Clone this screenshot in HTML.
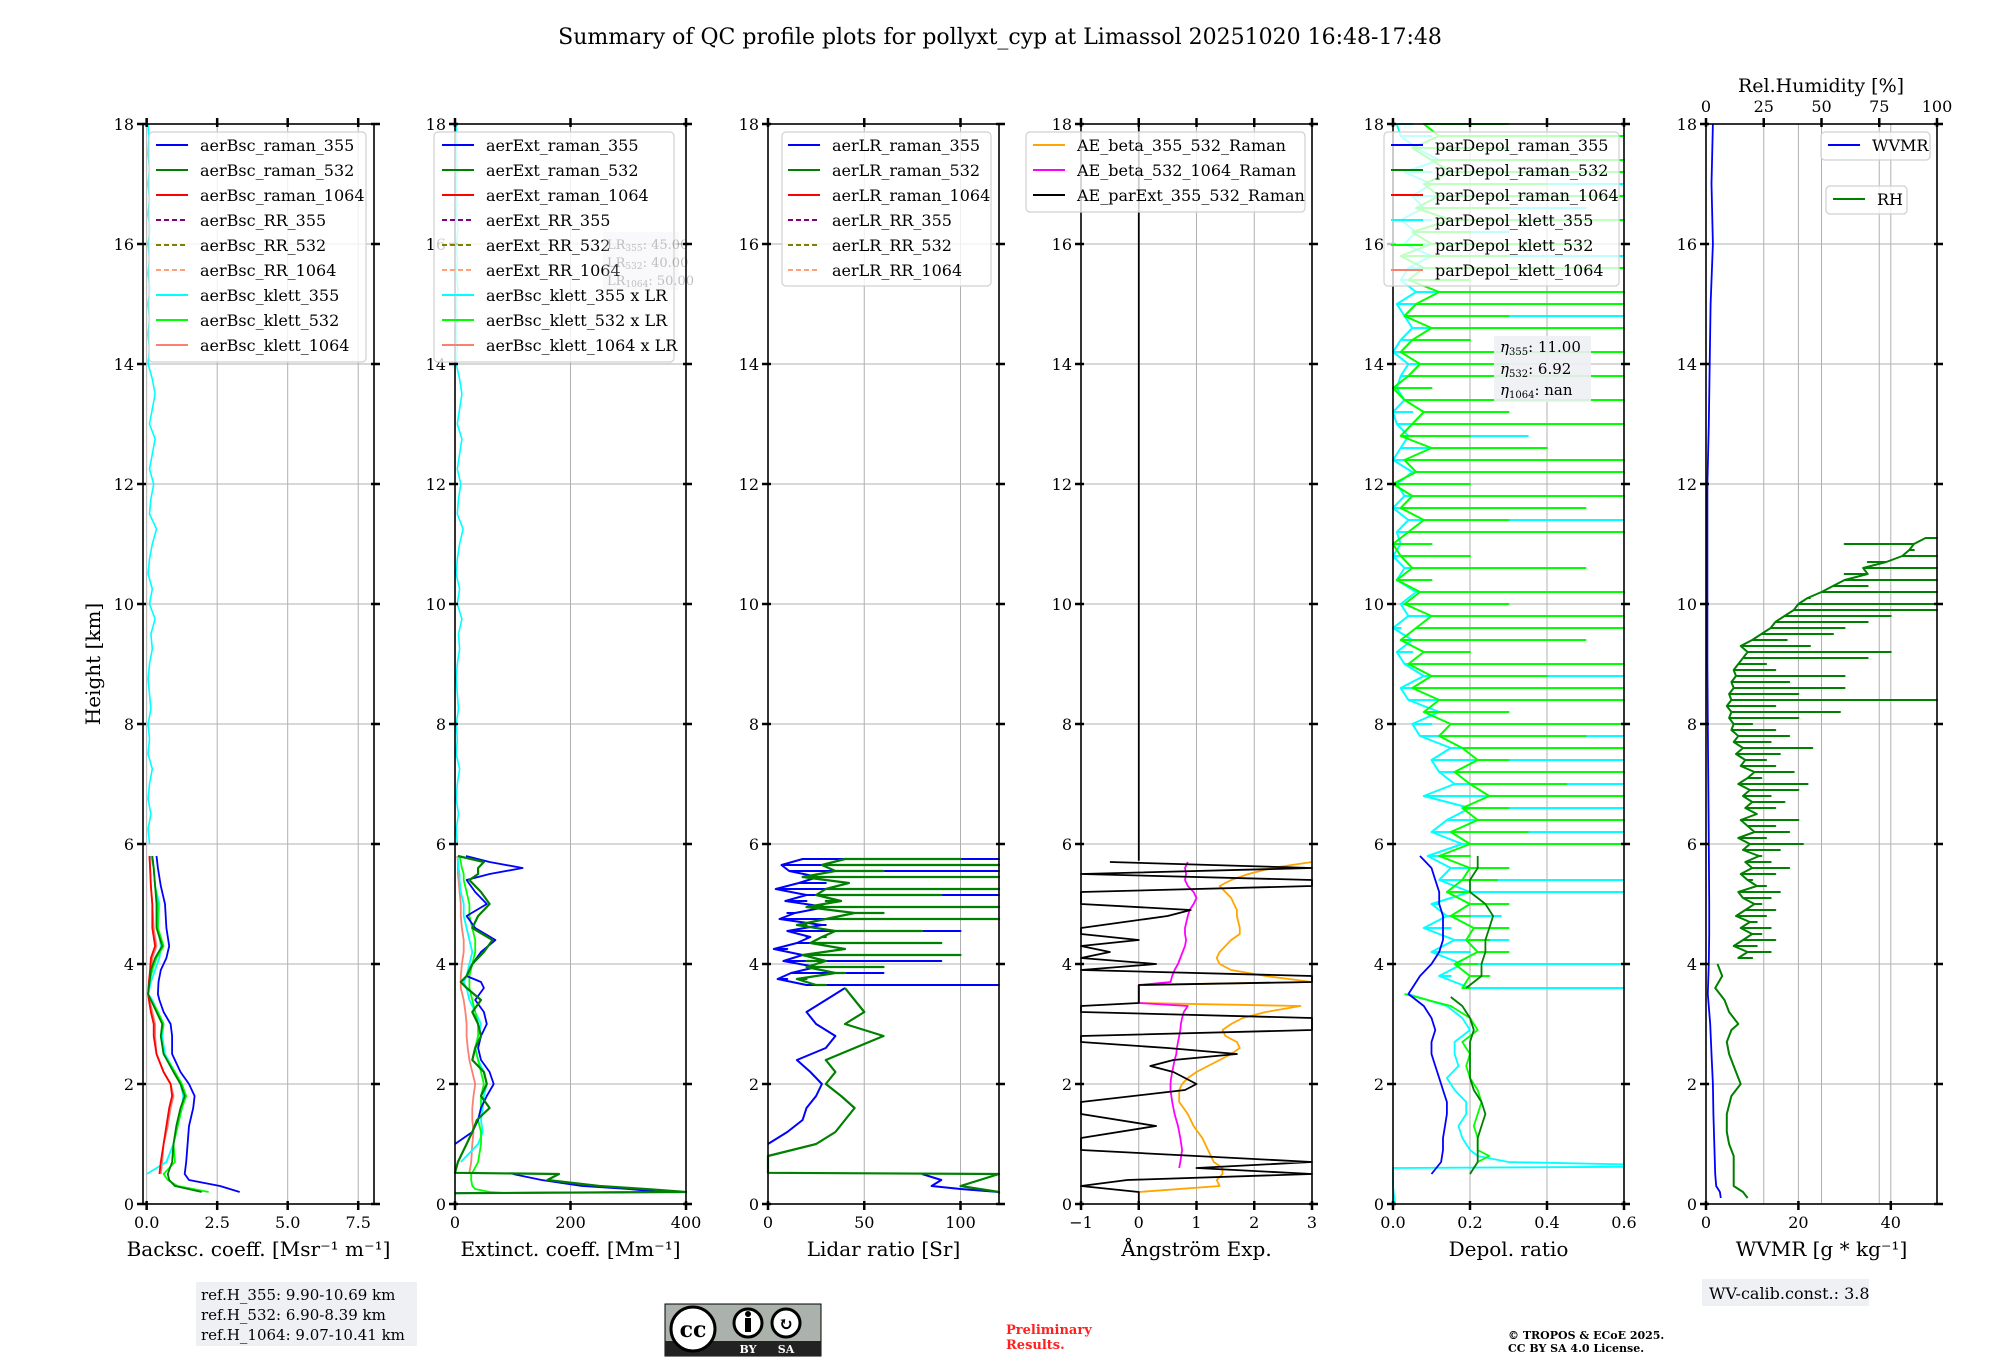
<!DOCTYPE html>
<html><head><meta charset="utf-8"><style>
html,body{margin:0;padding:0;background:#fff;}
svg text{font-family:"DejaVu Serif","Liberation Serif",serif;}
</style></head><body>
<svg id="fig" xmlns="http://www.w3.org/2000/svg" width="2000" height="1360" viewBox="0 0 2000 1360">
<rect width="2000" height="1360" fill="#fff"/>
<text x="1000" y="44" font-size="22" text-anchor="middle">Summary of QC profile plots for pollyxt_cyp at Limassol 20251020 16:48-17:48</text>
<g id="axes"></g>
<g id="data"></g>
<g id="frames"></g>
<g id="legends"></g>
<text x="100" y="664" font-size="20" text-anchor="middle" transform="rotate(-90 100 664)">Height [km]</text>
<text x="1821" y="92" font-size="19" text-anchor="middle">Rel.Humidity [%]</text>
<g opacity="0.25">
<rect x="603" y="232" width="76" height="58" fill="#e8e8f0"/>
<text x="607" y="249" font-size="13">LR<tspan font-size="9" dy="2">355</tspan><tspan dy="-2">: 45.00</tspan></text>
<text x="607" y="267" font-size="13">LR<tspan font-size="9" dy="2">532</tspan><tspan dy="-2">: 40.00</tspan></text>
<text x="607" y="285" font-size="13">LR<tspan font-size="9" dy="2">1064</tspan><tspan dy="-2">: 50.00</tspan></text>
</g>
<g>
<rect x="1494" y="336" width="97" height="66" fill="#eef0f4" opacity="0.9"/>
<text x="1500" y="352" font-size="15" font-style="italic">η<tspan font-size="10" font-style="normal" dy="3">355</tspan><tspan font-style="normal" dy="-3">: 11.00</tspan></text>
<text x="1500" y="374" font-size="15" font-style="italic">η<tspan font-size="10" font-style="normal" dy="3">532</tspan><tspan font-style="normal" dy="-3">: 6.92</tspan></text>
<text x="1500" y="395" font-size="15" font-style="italic">η<tspan font-size="10" font-style="normal" dy="3">1064</tspan><tspan font-style="normal" dy="-3">: nan</tspan></text>
</g>
<g>
<rect x="196" y="1282" width="221" height="64" fill="#eef0f4"/>
<text x="201" y="1300" font-size="15">ref.H_355: 9.90-10.69 km</text>
<text x="201" y="1320" font-size="15">ref.H_532: 6.90-8.39 km</text>
<text x="201" y="1340" font-size="15">ref.H_1064: 9.07-10.41 km</text>
</g>
<g>
<rect x="665" y="1304" width="156" height="52" fill="#aab2ab" stroke="#000" stroke-width="1"/>
<rect x="665" y="1341" width="156" height="15" fill="#222"/>
<circle cx="693" cy="1329" r="22" fill="#fff" stroke="#000" stroke-width="3"/>
<text x="693" y="1337" font-size="22" font-weight="bold" text-anchor="middle" font-family="Liberation Sans">cc</text>
<circle cx="748" cy="1323" r="14" fill="#fff" stroke="#000" stroke-width="3"/>
<rect x="745" y="1318" width="6" height="14" fill="#000"/><circle cx="748" cy="1314" r="3" fill="#000"/>
<circle cx="786" cy="1323" r="14" fill="#fff" stroke="#000" stroke-width="3"/>
<text x="786" y="1330" font-size="18" font-weight="bold" text-anchor="middle" font-family="Liberation Sans">↻</text>
<text x="748" y="1353" font-size="11" fill="#fff" font-weight="bold" text-anchor="middle" font-family="Liberation Sans">BY</text>
<text x="786" y="1353" font-size="11" fill="#fff" font-weight="bold" text-anchor="middle" font-family="Liberation Sans">SA</text>
</g>
<text x="1006" y="1334" font-size="13" fill="#ff2020" font-weight="bold"><tspan x="1006">Preliminary</tspan><tspan x="1006" dy="15">Results.</tspan></text>
<text x="1508" y="1339" font-size="11" font-weight="bold"><tspan x="1508">© TROPOS &amp; ECoE 2025.</tspan><tspan x="1508" dy="13">CC BY SA 4.0 License.</tspan></text>
<g>
<rect x="1702" y="1279" width="167" height="27" fill="#eef0f4"/>
<text x="1709" y="1299" font-size="16">WV-calib.const.: 3.8</text>
</g>
</svg>
<script>
// ---------- data ----------
const hB=[0.2,0.3,0.4,0.5,0.7,1.0,1.3,1.6,1.8,2.0,2.2,2.5,2.8,3.0,3.2,3.4,3.5,3.7,3.9,4.1,4.3,4.6,5.0,5.3,5.6,5.8];
const bsc355=[3.3,2.6,1.5,1.35,1.4,1.45,1.5,1.65,1.7,1.5,1.2,0.9,0.9,0.85,0.6,0.45,0.4,0.42,0.5,0.7,0.8,0.7,0.65,0.5,0.4,0.35];
const bsc532=[1.95,1.0,0.8,0.75,0.9,0.95,1.05,1.2,1.35,1.2,0.95,0.6,0.5,0.55,0.35,0.15,0.05,0.1,0.15,0.3,0.55,0.35,0.35,0.3,0.25,0.2];
const bsc1064=[null,null,null,0.45,0.5,0.6,0.7,0.8,0.9,0.85,0.6,0.35,0.25,0.25,0.15,0.08,0.05,0.08,0.12,0.15,0.3,0.2,0.2,0.15,0.12,0.1];
const bscK355=[null,null,null,0.0,0.7,0.95,1.1,1.25,1.3,1.2,1.0,0.65,0.55,0.6,0.4,0.2,0.05,0.15,0.3,0.45,0.5,0.4,0.45,0.3,0.25,0.15];
const bscK532=[2.2,1.1,0.75,0.6,1.0,0.95,1.1,1.25,1.4,1.25,1.0,0.6,0.5,0.6,0.4,0.15,0.05,0.1,0.2,0.35,0.6,0.4,0.4,0.3,0.25,0.2];
const bscK1064=[null,null,null,0.5,0.55,0.6,0.75,0.85,0.95,0.85,0.6,0.35,0.3,0.3,0.2,0.1,0.05,0.1,0.15,0.2,0.35,0.25,0.2,0.15,0.12,0.1];
const hU=[6.0,6.25,6.5,6.75,7.0,7.25,7.5,7.75,8.0,8.25,8.5,8.75,9.0,9.25,9.5,9.75,10.0,10.25,10.5,10.75,11.0,11.25,11.5,11.75,12.0,12.25,12.5,12.75,13.0,13.25,13.5,13.75,14.0,14.25,14.5,14.75,15.0,15.25,15.5,15.75,16.0,16.25,16.5,16.75,17.0,17.25,17.5,17.75,18.0];
const bscK355Up=[0.1,0.05,0.15,0.05,0.1,0.2,0.05,0.1,0.05,0.15,0.1,0.05,0.1,0.2,0.15,0.3,0.1,0.2,0.05,0.1,0.2,0.35,0.1,0.15,0.25,0.1,0.2,0.3,0.1,0.2,0.3,0.2,0.05,0.1,0.05,0.1,0.05,0.12,0.05,0.1,0.05,0.12,0.05,0.1,0.05,0.1,0.05,0.08,0.05];
const hE=[0.18,0.2,0.25,0.3,0.4,0.5,0.52,0.7,1.0,1.2,1.4,1.6,1.8,2.0,2.2,2.4,2.6,2.8,3.0,3.2,3.4,3.6,3.7,3.8,4.0,4.2,4.4,4.6,4.8,5.0,5.2,5.4,5.5,5.6,5.7,5.8];
const ext355=[0,355,300,220,150,100,null,null,0,30,40,45,55,67,60,45,40,45,55,50,35,50,45,20,30,45,70,35,20,55,35,20,60,117,60,19];
const ext532=[0,400,330,250,160,180,0,5,20,30,38,60,45,55,50,30,35,45,40,30,45,20,10,20,30,50,65,30,40,60,45,25,40,40,50,5];
const extK532=[90,60,35,30,28,28,30,40,45,45,40,45,45,50,45,40,35,40,40,35,30,25,25,25,30,35,35,30,25,25,20,15,15,12,10,8];
const extK355=[null,null,null,null,null,null,null,10,40,48,45,48,50,55,50,40,35,40,45,35,25,20,15,20,25,30,25,20,15,15,10,8,8,6,5,5];
const extK1064=[null,null,null,null,null,25,25,28,30,32,30,30,32,35,30,25,22,20,20,18,15,10,10,10,12,15,15,12,10,10,8,6,5,5,5,4];
const extK355Up=[4,2,6,2,4,8,2,4,2,6,4,2,4,8,6,12,4,8,2,4,8,14,4,6,10,4,8,12,4,8,12,8,2,4,2,4,2,5,2,4,2,5,2,4,2,4,2,3,2];
const hL=[0.18,0.2,0.25,0.3,0.4,0.5,0.52,0.8,1.0,1.2,1.4,1.6,1.8,2.0,2.2,2.4,2.6,2.8,3.0,3.2,3.4,3.6];
const lr355=[120,120,100,85,90,80,null,null,0,10,18,20,25,28,22,15,30,35,25,20,30,40];
const lr532=[120,120,110,100,110,120,0,0,25,35,40,45,38,30,35,30,45,60,40,50,45,40];
const hLU=[3.65,3.75,3.85,3.95,4.05,4.15,4.25,4.35,4.45,4.55,4.65,4.75,4.85,4.95,5.05,5.15,5.25,5.35,5.45,5.55,5.65,5.75];
const lr355Up=[120,10,60,30,90,20,10,70,20,100,30,120,10,120,20,120,60,30,100,120,90,120];
const lr355Base=[20,5,12,25,8,18,3,15,22,10,28,6,14,30,9,20,4,16,26,11,7,18];
const lr532Up=[30,20,40,60,20,100,40,90,30,80,20,120,60,120,30,90,120,40,120,60,120,100];
const lr532Base=[25,15,35,20,30,18,40,22,28,35,15,30,45,20,38,25,30,42,18,35,28,40];
const hA=[0.0,0.1,0.2,0.3,0.4,0.5,0.6,0.7,0.9,1.1,1.3,1.5,1.7,1.9,2.0,2.1,2.2,2.3,2.4,2.5,2.6,2.7,2.8,2.9,3.0,3.1,3.2,3.3,3.35,3.65,3.7,3.8,3.9,4.0,4.1,4.2,4.3,4.4,4.5,4.6,4.8,4.9,5.0,5.1,5.2,5.3,5.4,5.5,5.6,5.7];
const aeBeta355=[null,null,0,1.4,1.35,1.45,1.45,1.3,1.2,1.1,0.95,0.85,0.7,0.7,0.75,0.85,1.0,1.2,1.4,1.6,1.75,1.7,1.5,1.45,1.6,1.8,2.2,2.8,0,0,3.0,2.2,1.6,1.4,1.35,1.4,1.5,1.6,1.75,1.75,1.7,1.7,1.65,1.6,1.5,1.4,1.6,1.9,2.3,3.0];
const aeBeta532=[null,null,null,null,null,null,0.7,0.72,0.75,0.72,0.68,0.62,0.58,0.55,0.55,0.56,0.58,0.6,0.62,0.65,0.66,0.68,0.7,0.72,0.73,0.75,0.78,0.85,0,0,0.55,0.58,0.62,0.68,0.72,0.76,0.8,0.82,0.8,0.8,0.85,0.88,0.95,1.0,0.95,0.85,0.8,0.82,0.8,0.85];
const aeExt=[0,0,0,-1,-0.2,3,1.0,3,-1,-1,0.3,-1,-1,0.8,1.0,0.8,0.6,0.2,0.6,1.7,0.5,-1,-1,3,3,3,-1,-1,0,0,3,3,-1,0.3,-1,-0.5,-1,0,-1,-1,0.5,0.9,-1,-1,-1,3,3,-1,3,-0.5];
const hAeTop=[5.72,18];
const aeExtTop=[0,0];
const hD=[0.5,0.7,0.9,1.1,1.3,1.5,1.7,1.9,2.1,2.3,2.5,2.7,2.9,3.1,3.3,3.45,3.5,3.6,3.8,4.0,4.2,4.4,4.6,4.8,5.0,5.2,5.4,5.6,5.8];
const dep355=[0.1,0.125,0.13,0.13,0.135,0.14,0.14,0.13,0.12,0.11,0.1,0.1,0.11,0.1,0.08,0.05,0.04,0.05,0.07,0.1,0.12,0.13,0.13,0.13,0.12,0.12,0.11,0.1,0.07];
const dep532=[0.2,0.22,0.22,0.22,0.23,0.24,0.23,0.21,0.2,0.2,0.2,0.2,0.21,0.2,0.18,0.15,null,0.19,0.23,0.23,0.24,0.24,0.25,0.26,0.24,0.2,0.2,0.22,0.22];
const hDK=[0.0,0.3,0.6,0.62,0.66,0.7,0.8,0.9,1.1,1.3,1.5,1.7,1.9,2.1,2.3,2.5,2.7,2.9,3.1,3.3,3.5];
const depK355Low=[0.005,0.0,0.0,0.6,0.6,0.3,0.22,0.2,0.18,0.17,0.19,0.19,0.16,0.14,0.17,0.16,0.16,0.2,0.18,0.14,0.04];
const depK532Low=[null,null,null,null,null,0.22,0.25,0.22,0.22,0.21,0.22,0.23,0.22,0.2,0.19,0.2,0.18,0.22,0.2,0.15,0.03];
const hDU=[3.6,3.8,4.0,4.2,4.4,4.6,4.8,5.0,5.2,5.4,5.6,5.8,6.0,6.2,6.4,6.6,6.8,7.0,7.2,7.4,7.6,7.8,8.0,8.2,8.4,8.6,8.8,9.0,9.2,9.4,9.6,9.8,10.0,10.2,10.4,10.6,10.8,11.0,11.2,11.4,11.6,11.8,12.0,12.2,12.4,12.6,12.8,13.0,13.2,13.4,13.6,13.8,14.0,14.2,14.4,14.6,14.8,15.0,15.2,15.4,15.6,15.8,16.0,16.2,16.4,16.6,16.8,17.0,17.2,17.4,17.6,17.8,18.0];
const depK355Up=[0.6,0.15,0.6,0.2,0.3,0.15,0.28,0.12,0.6,0.6,0.3,0.2,0.55,0.6,0.25,0.6,0.35,0.6,0.4,0.6,0.2,0.6,0.1,0.3,0.6,0.05,0.6,0.1,0.05,0.15,0.02,0.3,0.1,0.6,0.05,0.2,0.03,0.1,0.05,0.6,0.1,0.6,0.05,0.2,0.03,0.1,0.35,0.1,0.05,0.2,0.05,0.1,0.2,0.05,0.1,0.2,0.6,0.1,0.3,0.1,0.2,0.6,0.1,0.3,0.1,0.5,0.2,0.6,0.1,0.6,0.2,0.1,0.05];
const depK355Base=[0.2,0.12,0.18,0.1,0.16,0.08,0.14,0.1,0.2,0.12,0.15,0.09,0.18,0.1,0.14,0.2,0.08,0.16,0.12,0.1,0.15,0.07,0.05,0.12,0.04,0.02,0.08,0.03,0.01,0.05,0.0,0.04,0.02,0.06,0.01,0.03,0.0,0.02,0.01,0.04,0.0,0.03,0.01,0.05,0.0,0.02,0.04,0.01,0.0,0.03,0.01,0.02,0.04,0.0,0.02,0.05,0.03,0.01,0.06,0.02,0.04,0.1,0.03,0.06,0.02,0.08,0.05,0.1,0.03,0.12,0.06,0.02,0.01];
const depK532Up=[0.2,0.25,0.22,0.3,0.25,0.3,0.2,0.3,0.2,0.27,0.3,0.2,0.6,0.35,0.6,0.3,0.6,0.45,0.6,0.3,0.6,0.5,0.6,0.3,0.6,0.6,0.4,0.6,0.2,0.5,0.6,0.6,0.3,0.6,0.1,0.5,0.2,0.1,0.6,0.3,0.5,0.6,0.2,0.6,0.6,0.4,0.2,0.6,0.3,0.6,0.1,0.6,0.3,0.6,0.2,0.6,0.3,0.6,0.6,0.2,0.6,0.3,0.5,0.2,0.6,0.3,0.6,0.4,0.6,0.6,0.3,0.6,0.3];
const depK532Base=[0.18,0.2,0.16,0.22,0.19,0.21,0.15,0.2,0.14,0.18,0.2,0.12,0.2,0.15,0.22,0.18,0.25,0.2,0.16,0.22,0.18,0.12,0.15,0.08,0.12,0.05,0.1,0.04,0.08,0.02,0.06,0.1,0.03,0.07,0.01,0.05,0.02,0.0,0.04,0.08,0.02,0.05,0.0,0.06,0.03,0.1,0.02,0.05,0.08,0.03,0.0,0.04,0.07,0.02,0.05,0.1,0.03,0.06,0.12,0.04,0.08,0.02,0.1,0.05,0.15,0.06,0.12,0.08,0.15,0.1,0.05,0.12,0.08];
const hW=[0.1,0.2,0.3,0.5,1.0,1.5,2.0,2.5,3.0,3.5,4.0,4.5,5.0,6.0,7.0,8.0,9.0,10.0,11,12,13,14,15,16,17,18];
const wvmr=[3.2,3.0,2.2,2.0,1.8,1.6,1.5,1.2,0.9,0.4,0.6,0.7,0.7,0.6,0.5,0.4,0.3,0.3,0.3,0.3,0.6,0.8,1.0,1.5,1.2,1.5];
const hRH=[0.1,0.2,0.3,0.5,0.8,1.0,1.2,1.5,1.8,2.0,2.2,2.5,2.7,2.9,3.0,3.2,3.4,3.6,3.8,4.0];
const rh=[18,16,12,12,12,10,9,9,11,15,13,10,9,11,14,10,8,4,7,5];
const hRHU=[4.1,4.2,4.3,4.4,4.5,4.6,4.7,4.8,4.9,5.0,5.1,5.2,5.3,5.4,5.5,5.6,5.7,5.8,5.9,6.0,6.1,6.2,6.3,6.4,6.5,6.6,6.7,6.8,6.9,7.0,7.1,7.2,7.3,7.4,7.5,7.6,7.7,7.8,7.9,8.0,8.1,8.2,8.3,8.4,8.5,8.6,8.7,8.8,8.9,9.0,9.1,9.2,9.3,9.4,9.5,9.6,9.7,9.8,9.9,10.0,10.1,10.2,10.3,10.4,10.5,10.6,10.7,10.8,10.9,11.0,11.1];
const rhUp=[20,28,22,30,24,28,22,26,30,24,28,32,26,20,30,36,28,24,32,42,26,36,30,40,22,30,34,28,40,44,24,38,30,26,32,46,28,36,30,20,40,58,30,100,40,60,36,60,30,26,70,80,45,35,55,60,70,80,100,100,45,100,70,100,60,100,70,100,90,60,100];
const rhBase=[14,18,12,16,20,15,19,13,17,21,16,14,22,18,15,20,17,23,16,19,14,21,18,15,22,17,20,16,19,14,18,21,15,17,13,16,12,14,11,12,10,11,9,11,10,12,11,13,12,14,16,18,15,20,24,28,30,34,38,40,44,50,55,60,70,68,78,85,88,90,95];
const yTicks=[0,2,4,6,8,10,12,14,16,18];
const xTicks1=[0,2.5,5,7.5], xTickLabels1=["0.0","2.5","5.0","7.5"];
const xTicks2=[0,200,400], xTickLabels2=["0","200","400"];
const xTicks3=[0,50,100], xTickLabels3=["0","50","100"];
const xTicks4=[-1,0,1,2,3], xTickLabels4=["−1","0","1","2","3"];
const xTicks5=[0,0.2,0.4,0.6], xTickLabels5=["0.0","0.2","0.4","0.6"];
const xTicks6=[0,20,40], xTickLabels6=["0","20","40"];
const rhTicks=[0,25,50,75,100];

// ---------- layout ----------
const NS="http://www.w3.org/2000/svg";
const LEFT=[143,455,768,1081,1393,1706], W=231, TOP=124, BOT=1204;
const XMIN=[-0.13,0,0,-1,0,0], XMAX=[8.06,400,120,3,0.6,50];
function sx(p,v){return LEFT[p]+(v-XMIN[p])/(XMAX[p]-XMIN[p])*W;}
function sxRH(v){return LEFT[5]+v/100*W;}
function sy(h){return BOT-h/18*(BOT-TOP);}
const gridG=document.getElementById('axes'), dataG=document.getElementById('data'), frG=document.getElementById('frames'), lgG=document.getElementById('legends');
function mk(tag,attrs,parent){const e=document.createElementNS(NS,tag);for(const k in attrs)e.setAttribute(k,attrs[k]);parent.appendChild(e);return e;}
function clampX(p,x){return Math.max(LEFT[p],Math.min(LEFT[p]+W,x));}

function series(p,hs,vs,color,name,width,fx){
  const f=fx||(v=>sx(p,v));
  let d="",pen=false;
  const n=Math.min(hs.length,vs.length);
  for(let i=0;i<n;i++){
    if(vs[i]===null){pen=false;continue;}
    const x=clampX(p,f(vs[i]));
    d+=(pen?"L":"M")+x.toFixed(1)+" "+sy(hs[i]).toFixed(1)+" ";pen=true;
  }
  const e=mk('path',{d:d,fill:"none",stroke:color,"stroke-width":width||1.8,"stroke-linejoin":"round"},dataG);
  
  
}
// horizontal spikes out of a wiggly baseline
function spikes(p,hs,vs,base,color,name,width,fx){
  const f=fx||(v=>sx(p,v));
  let d="";
  const n=Math.min(hs.length,vs.length,base.length);
  for(let i=0;i<n;i++){
    const y=sy(hs[i]).toFixed(1);
    const xb=clampX(p,f(base[i])).toFixed(1), xv=clampX(p,f(vs[i])).toFixed(1);
    d+=(i?"L":"M")+xb+" "+y+" L"+xv+" "+y+" L"+xb+" "+y+" ";
  }
  const e=mk('path',{d:d,fill:"none",stroke:color,"stroke-width":width||1.6,"stroke-linejoin":"round"},dataG);
  
  
}

const xTickSets=[[xTicks1,xTickLabels1],[xTicks2,xTickLabels2],[xTicks3,xTickLabels3],[xTicks4,xTickLabels4],[xTicks5,xTickLabels5],[xTicks6,xTickLabels6]];
const xTitles=["Backsc. coeff. [Msr⁻¹ m⁻¹]","Extinct. coeff. [Mm⁻¹]","Lidar ratio [Sr]","Ångström Exp.","Depol. ratio","WVMR [g * kg⁻¹]"];
const panelNames=["backscatter","extinction","lidar-ratio","angstrom","depol","wvmr"];

for(let p=0;p<6;p++){
  const g=mk('g',{},gridG);
  
  
  yTicks.forEach(t=>{mk('line',{x1:LEFT[p],x2:LEFT[p]+W,y1:sy(t),y2:sy(t),stroke:"#b0b0b0","stroke-width":1},g);});
  const tks=(p===5)?rhTicks.map(v=>sxRH(v)):xTickSets[p][0].map(v=>sx(p,v));
  tks.forEach(x=>{mk('line',{x1:x,x2:x,y1:TOP,y2:BOT,stroke:"#b0b0b0","stroke-width":1},g);});
  if(p===5){xTicks6.forEach(v=>{mk('line',{x1:sx(5,v),x2:sx(5,v),y1:TOP,y2:BOT,stroke:"#b0b0b0","stroke-width":1},g);});}
}

// ---------- series ----------
series(0,hB,bscK1064,"#fa8072","bsc-klett-1064");
series(0,hB,bscK355,"#00ffff","bsc-klett-355");
series(0,hU,bscK355Up,"#00ffff","bsc-klett-355-upper",1.6);
series(0,hB,bscK532,"#00ff00","bsc-klett-532");
series(0,hB,bsc1064,"#ff0000","bsc-raman-1064");
series(0,hB,bsc532,"#008000","bsc-raman-532");
series(0,hB,bsc355,"#0000ff","bsc-raman-355");
series(1,hE,extK1064,"#fa8072","ext-klett-1064");
series(1,hE,extK355,"#00ffff","ext-klett-355");
series(1,hU,extK355Up,"#00ffff","ext-klett-355-upper",1.6);
series(1,hE,extK532,"#00ff00","ext-klett-532");
series(1,hE,ext355,"#0000ff","ext-raman-355");
series(1,hE,ext532,"#008000","ext-raman-532",2.2);
series(2,hL,lr355,"#0000ff","lr-raman-355",2);
series(2,hL,lr532,"#008000","lr-raman-532",2.2);
spikes(2,hLU,lr355Up,lr355Base,"#0000ff","lr-raman-355-upper",2);
spikes(2,hLU,lr532Up,lr532Base,"#008000","lr-raman-532-upper",2.2);
series(3,hA,aeBeta355,"#ffa500","ae-beta-355-532");
series(3,hA,aeBeta532,"#ff00ff","ae-beta-532-1064");
series(3,hA,aeExt,"#000000","ae-parext-355-532");
series(3,hAeTop,aeExtTop,"#000000","ae-parext-upper");
spikes(4,hDU,depK355Up,depK355Base,"#00ffff","depol-klett-355-upper",2);
spikes(4,hDU,depK532Up,depK532Base,"#00ff00","depol-klett-532-upper",2);
series(4,hDK,depK355Low,"#00ffff","depol-klett-355");
series(4,hDK,depK532Low,"#00ff00","depol-klett-532");
series(4,hD,dep355,"#0000ff","depol-raman-355");
series(4,hD,dep532,"#008000","depol-raman-532");
series(5,hRH,rh,"#008000","rh-profile",2,sxRH);
spikes(5,hRHU,rhUp,rhBase,"#008000","rh-profile-upper",2,sxRH);
series(5,hW,wvmr,"#0000ff","wvmr-profile",1.8);

// ---------- axes frames & ticks ----------
for(let p=0;p<6;p++){
  const g=mk('g',{},frG);
  
  
  mk('rect',{x:LEFT[p],y:TOP,width:W,height:BOT-TOP,fill:"none",stroke:"#000","stroke-width":1.6},g);
  yTicks.forEach(t=>{
    const y=sy(t);
    mk('line',{x1:LEFT[p]-6,x2:LEFT[p]+3,y1:y,y2:y,stroke:"#000","stroke-width":2.5},g);
    mk('line',{x1:LEFT[p]+W-3,x2:LEFT[p]+W+6,y1:y,y2:y,stroke:"#000","stroke-width":2.5},g);
    const tl=mk('text',{x:LEFT[p]-9,y:y+6,"font-size":16,"text-anchor":"end"},g);
    tl.textContent=String(t);
    
    
  });
  const [tv,tl]=xTickSets[p];
  tv.forEach((v,i)=>{
    const x=sx(p,v);
    mk('line',{x1:x,x2:x,y1:BOT-3,y2:BOT+6,stroke:"#000","stroke-width":2.5},g);
    if(p!==5) mk('line',{x1:x,x2:x,y1:TOP-6,y2:TOP+3,stroke:"#000","stroke-width":2.5},g);
    const t=mk('text',{x:x,y:BOT+24,"font-size":16,"text-anchor":"middle"},g);
    t.textContent=tl[i];
    
    
  });
  const xt=mk('text',{x:LEFT[p]+W/2,y:BOT+52,"font-size":20,"text-anchor":"middle"},g);
  xt.textContent=xTitles[p];
  
  
}
rhTicks.forEach(v=>{
  const x=sxRH(v);
  mk('line',{x1:x,x2:x,y1:TOP-6,y2:TOP+3,stroke:"#000","stroke-width":2.5},frG);
  const t=mk('text',{x:x,y:TOP-12,"font-size":16,"text-anchor":"middle"},frG);
  t.textContent=String(v);
  
  
});

// ---------- legends ----------
function legend(name,bx,by,bw,bh,lx,entries,alpha){
  const g=mk('g',{},lgG);
  
  
  mk('rect',{x:bx,y:by,width:bw,height:bh,rx:4,fill:"#fff","fill-opacity":alpha,stroke:"#d0d0d0","stroke-width":1.2},g);
  entries.forEach((e,i)=>{
    const y=by+13+i*25;
    const ln=mk('line',{x1:lx,x2:lx+32,y1:y,y2:y,stroke:e[1],"stroke-width":2},g);
    if(e[2]) ln.setAttribute('stroke-dasharray','5,3');
    const t=mk('text',{x:lx+44,y:y+6,"font-size":16},g);
    t.textContent=e[0];
    
    
  });
}
legend('backscatter-legend',149,132,217,230,156,[["aerBsc_raman_355","#0000ff"],["aerBsc_raman_532","#008000"],["aerBsc_raman_1064","#ff0000"],["aerBsc_RR_355","#800080",1],["aerBsc_RR_532","#808000",1],["aerBsc_RR_1064","#ffa07a",1],["aerBsc_klett_355","#00ffff"],["aerBsc_klett_532","#00ff00"],["aerBsc_klett_1064","#fa8072"]],0.8);
legend('extinction-legend',434,132,240,230,442,[["aerExt_raman_355","#0000ff"],["aerExt_raman_532","#008000"],["aerExt_raman_1064","#ff0000"],["aerExt_RR_355","#800080",1],["aerExt_RR_532","#808000",1],["aerExt_RR_1064","#ffa07a",1],["aerBsc_klett_355 x LR","#00ffff"],["aerBsc_klett_532 x LR","#00ff00"],["aerBsc_klett_1064 x LR","#fa8072"]],0.8);
legend('lidar-ratio-legend',782,132,209,154,788,[["aerLR_raman_355","#0000ff"],["aerLR_raman_532","#008000"],["aerLR_raman_1064","#ff0000"],["aerLR_RR_355","#800080",1],["aerLR_RR_532","#808000",1],["aerLR_RR_1064","#ffa07a",1]],0.8);
legend('angstrom-legend',1026,132,279,80,1033,[["AE_beta_355_532_Raman","#ffa500"],["AE_beta_532_1064_Raman","#ff00ff"],["AE_parExt_355_532_Raman","#000000"]],0.8);
legend('depol-legend',1384,132,235,154,1391,[["parDepol_raman_355","#0000ff"],["parDepol_raman_532","#008000"],["parDepol_raman_1064","#ff0000"],["parDepol_klett_355","#00ffff"],["parDepol_klett_532","#00ff00"],["parDepol_klett_1064","#fa8072"]],0.75);
legend('wvmr-legend',1821,132,109,28,1828,[["WVMR","#0000ff"]],0.8);
legend('rh-legend',1826,186,81,28,1833,[["RH","#008000"]],0.8);
</script>
</body></html>
